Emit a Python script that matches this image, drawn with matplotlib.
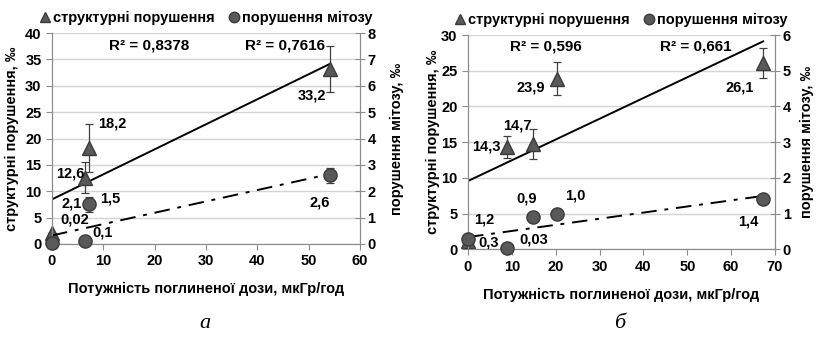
import matplotlib
matplotlib.use("Agg")
import matplotlib.pyplot as plt
from matplotlib.lines import Line2D
import numpy as np

plt.rcParams['font.family'] = ['Liberation Sans Narrow', 'Liberation Sans', 'DejaVu Sans']
plt.rcParams['font.weight'] = 'bold'
plt.rcParams['axes.labelweight'] = 'bold'
plt.rcParams['font.size'] = 10

# панель а
dose_a = [0, 6.5, 7.3, 54.2]
struct_a = [2.1, 12.6, 18.2, 33.2]
struct_err_a = [0, 3.0, 4.6, 4.3]
mitosis_a = [0.02, 0.1, 1.5, 2.6]
mitosis_err_a = [0, 0, 0.3, 0.3]
struct_lbl_a = ["2,1", "12,6", "18,2", "33,2"]
mitosis_lbl_a = ["0,02", "0,1", "1,5", "2,6"]
r2_a = ["R² = 0,8378", "R² = 0,7616"]

# панель б
dose_b = [0, 8.9, 14.8, 20.4, 67.3]
struct_b = [1.2, 14.3, 14.7, 23.9, 26.1]
struct_err_b = [0, 1.5, 2.1, 2.35, 2.1]
mitosis_b = [0.3, 0.03, 0.9, 1.0, 1.4]
mitosis_err_b = [0, 0, 0, 0, 0.1]
struct_lbl_b = ["1,2", "14,3", "14,7", "23,9", "26,1"]
mitosis_lbl_b = ["0,3", "0,03", "0,9", "1,0", "1,4"]
r2_b = ["R² = 0,596", "R² = 0,661"]

MARK = '#595959'
EDGE = '#3a3a3a'
SPINE = '#8c8c8c'


def draw_panel(rect, x, s, s_err, m, m_err, s_lbl, m_lbl, r2, xmax, ylim_l, ylim_r,
               s_pos, m_pos, r2_pos, letter, letter_x, ylab_x, y2lab_x):
    ax = fig.add_axes(rect)
    ax2 = ax.twinx()
    for a in (ax, ax2):
        a.spines['top'].set_visible(False)
        for sp in ('left', 'right', 'bottom'):
            a.spines[sp].set_color(SPINE)
        a.tick_params(colors='black', labelsize=10.5, length=4, color=SPINE)
    ax2.tick_params(direction='inout', length=7, pad=2)
    ax.set_xlim(0, xmax)
    ax.set_ylim(0, ylim_l)
    ax2.set_ylim(0, ylim_r)
    ax.set_xticks(np.arange(0, xmax + 1, 10))
    ax.set_yticks(np.arange(0, ylim_l + 1, 5))
    ax2.set_yticks(np.arange(0, ylim_r + 1, 1))
    for lab in ax.get_xticklabels() + ax.get_yticklabels() + ax2.get_yticklabels():
        lab.set_fontweight('bold')
    ax.yaxis.grid(True, color='#d4d4d4', lw=1)
    ax.set_axisbelow(True)

    xs = np.array(x)
    # лінії тренду
    k, b = np.polyfit(xs, s, 1)
    xx = np.array([0, xs.max()])
    ax.plot(xx, k * xx + b, color='black', lw=1.4, zorder=2)
    k2, b2 = np.polyfit(xs, m, 1)
    ax2.plot(xx, k2 * xx + b2, color='black', lw=1.4, ls=(0, (8, 4, 2, 4)), zorder=2)

    ax.errorbar(x, s, yerr=s_err, fmt='^', ms=10, mfc=MARK, mec=EDGE, ecolor='#404040',
                elinewidth=0.9, capsize=3, capthick=0.9, clip_on=False, zorder=4)
    ax2.errorbar(x, m, yerr=m_err, fmt='o', ms=9.5, mfc=MARK, mec=EDGE, ecolor='#404040',
                 elinewidth=0.9, capsize=3, capthick=0.9, clip_on=False, zorder=4)

    for t, (px, py) in zip(s_lbl, s_pos):
        ax.text(px, py, t, ha='center', va='center', fontsize=10.5, zorder=5)
    for t, (px, py) in zip(m_lbl, m_pos):
        ax.text(px, py, t, ha='center', va='center', fontsize=10.5, zorder=5)
    for t, (px, py) in zip(r2, r2_pos):
        ax.text(px, py, t, ha='center', va='center', fontsize=11, zorder=5)

    ax.set_xlabel("Потужність поглиненої дози, мкГр/год", fontsize=10.5, labelpad=10)
    ax.set_ylabel("структурні порушення, ‰", fontsize=10.5)
    ax2.set_ylabel("порушення мітозу, ‰", fontsize=10.5)
    ax.yaxis.set_label_coords(ylab_x, 0.5)
    ax2.yaxis.set_label_coords(y2lab_x, 0.5)

    handles = [Line2D([], [], ls='', marker='^', ms=7.5, mfc=MARK, mec=EDGE),
               Line2D([], [], ls='', marker='o', ms=7.5, mfc=MARK, mec=EDGE)]
    ax.legend(handles, ["структурні порушення", "порушення мітозу"], loc='lower center',
              bbox_to_anchor=(0.5, 1.01), ncol=2, frameon=False, fontsize=10.5,
              handlelength=0.7, handletextpad=0.2, columnspacing=1.0, borderaxespad=0)

    fig.text(letter_x, 0.04, letter, ha='center', va='center', fontsize=16,
             family=['Liberation Serif', 'DejaVu Serif'], style='italic', weight='normal')
    return ax


fig = plt.figure(figsize=(8.17, 3.37), dpi=100)

draw_panel([0.0636, 0.276, 0.377, 0.626], dose_a, struct_a, struct_err_a, mitosis_a,
           mitosis_err_a, struct_lbl_a, mitosis_lbl_a, r2_a, 60, 40, 8,
           s_pos=[(3.8, 7.6), (3.5, 13.3), (11.7, 22.9), (50.7, 28.2)],
           m_pos=[(4.5, 4.7), (9.9, 2.1), (11.3, 8.7), (52.2, 7.8)],
           r2_pos=[(18.9, 37.7), (45.4, 37.7)], letter="а", letter_x=0.251,
           ylab_x=-0.107, y2lab_x=1.097)

draw_panel([0.5728, 0.260, 0.3758, 0.636], dose_b, struct_b, struct_err_b, mitosis_b,
           mitosis_err_b, struct_lbl_b, mitosis_lbl_b, r2_b, 70, 30, 6,
           s_pos=[(3.6, 4.2), (4.3, 14.4), (11.2, 17.4), (14.2, 22.7), (62.0, 22.7)],
           m_pos=[(4.7, 0.9), (14.9, 1.4), (13.4, 7.1), (24.4, 7.6), (63.9, 3.9)],
           r2_pos=[(17.8, 28.4), (52.0, 28.4)], letter="б", letter_x=0.759,
           ylab_x=-0.091, y2lab_x=1.08)

fig.savefig("out.png", dpi=100)
